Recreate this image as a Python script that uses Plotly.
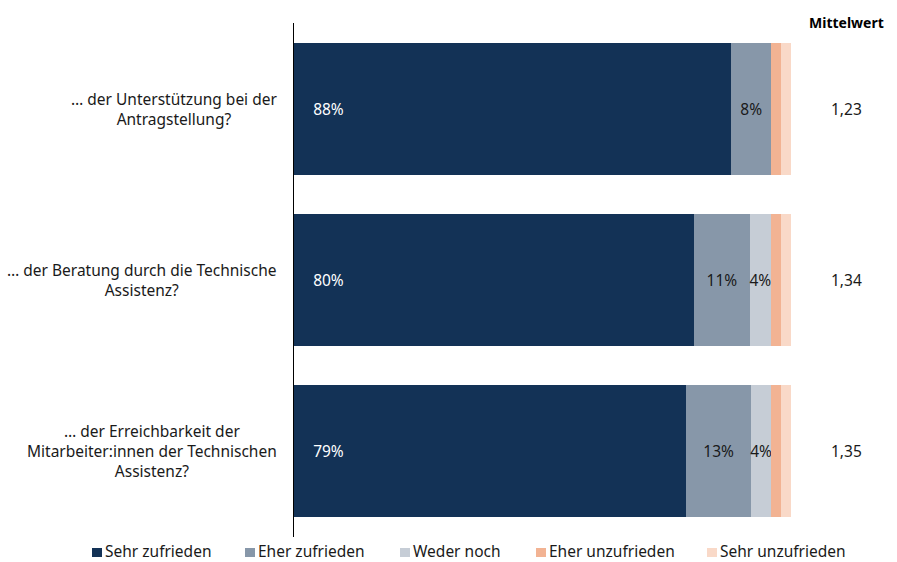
import plotly.graph_objects as go

# Survey items (top to bottom)
items = [
    "… der Unterstützung bei der<br>Antragstellung?",
    "… der Beratung durch die Technische<br>Assistenz?",
    "… der Erreichbarkeit der<br>Mitarbeiter:innen der Technischen<br>Assistenz?",
]
item_keys = ["Antrag", "Beratung", "Erreichbarkeit"]

# Answer shares in percent
sehr_zufrieden = [88.0, 80.4, 78.9]
eher_zufrieden = [8.0, 11.4, 13.1]
weder_noch = [0.0, 4.1, 4.0]
eher_unzufrieden = [2.0, 2.1, 2.0]
sehr_unzufrieden = [2.0, 2.0, 2.0]

# Mean score per item
mittelwert = [1.23, 1.34, 1.35]

series_names = ["Sehr zufrieden", "Eher zufrieden", "Weder noch",
                "Eher unzufrieden", "Sehr unzufrieden"]
series_values = [sehr_zufrieden, eher_zufrieden, weder_noch,
                 eher_unzufrieden, sehr_unzufrieden]
series_colors = ["#133256", "#8797a9", "#c6cdd6", "#f2b393", "#f9d9c8"]
label_colors = ["#ffffff", "#1a1a1a", "#1a1a1a", "#1a1a1a", "#1a1a1a"]

FONT = "Noto Sans"
FS = 15.5
NB = "\u00a0"

fig = go.Figure()

for i, (name, vals, col, lcol) in enumerate(zip(series_names, series_values,
                                                 series_colors, label_colors)):
    if i == 0:
        texts = [f"{NB * 4}{v:.0f}%" for v in vals]
        anchor = "start"
    else:
        texts = [f"{v:.0f}%" if v >= 3 else "" for v in vals]
        anchor = "middle"
    fig.add_trace(go.Bar(
        name=name,
        y=item_keys,
        x=vals,
        orientation="h",
        marker=dict(color=col, line=dict(width=0)),
        text=texts,
        textposition="inside",
        insidetextanchor=anchor,
        textangle=0,
        constraintext="none",
        textfont=dict(family=FONT, size=FS, color=lcol),
        hoverinfo="skip",
        showlegend=False,
    ))

# Item labels left of the bars
for key, label in zip(item_keys, items):
    fig.add_annotation(
        xref="paper", yref="y", x=0, y=key, xshift=-15,
        xanchor="right", yanchor="middle", align="center",
        text=label, showarrow=False,
        font=dict(family=FONT, size=FS, color="#1a1a1a"),
    )

# Mean column
fig.add_annotation(
    xref="paper", yref="paper", x=1, y=1, xshift=55, yshift=1,
    xanchor="center", yanchor="middle",
    text="<b>Mittelwert</b>", showarrow=False,
    font=dict(family=FONT, size=14, color="#000000"),
)
for key, m in zip(item_keys, mittelwert):
    fig.add_annotation(
        xref="paper", yref="y", x=1, y=key, xshift=55,
        xanchor="center", yanchor="middle",
        text=f"{m:.2f}".replace(".", ","), showarrow=False,
        font=dict(family=FONT, size=FS, color="#1a1a1a"),
    )

# Legend row below the plot: colour square + label, offsets from the y axis
legend_square_offsets = [-202, -49, 106, 242, 413]
for name, col, off in zip(series_names, series_colors, legend_square_offsets):
    fig.add_shape(
        type="rect", xref="paper", yref="paper",
        xsizemode="pixel", ysizemode="pixel", xanchor=0, yanchor=0,
        x0=off, x1=off + 10, y0=-11, y1=-20,
        fillcolor=col, line=dict(width=0), layer="above",
    )
    fig.add_annotation(
        xref="paper", yref="paper", x=0, y=0, xshift=off + 11, yshift=-14,
        xanchor="left", yanchor="middle",
        text=name, showarrow=False,
        font=dict(family=FONT, size=FS, color="#1a1a1a"),
    )

fig.update_layout(
    barmode="stack",
    bargap=0.228,
    width=897, height=562,
    margin=dict(l=294, r=106, t=23, b=25),
    paper_bgcolor="white",
    plot_bgcolor="white",
    font=dict(family=FONT, size=FS, color="#1a1a1a"),
    xaxis=dict(range=[0, 100], showgrid=False, zeroline=False,
               showticklabels=False, showline=False, fixedrange=True),
    yaxis=dict(categoryorder="array", categoryarray=item_keys,
               autorange="reversed", showgrid=False, zeroline=False,
               showticklabels=False, showline=True, linecolor="#000000",
               linewidth=1, ticks="", fixedrange=True),
)

fig.write_html("out.html")
